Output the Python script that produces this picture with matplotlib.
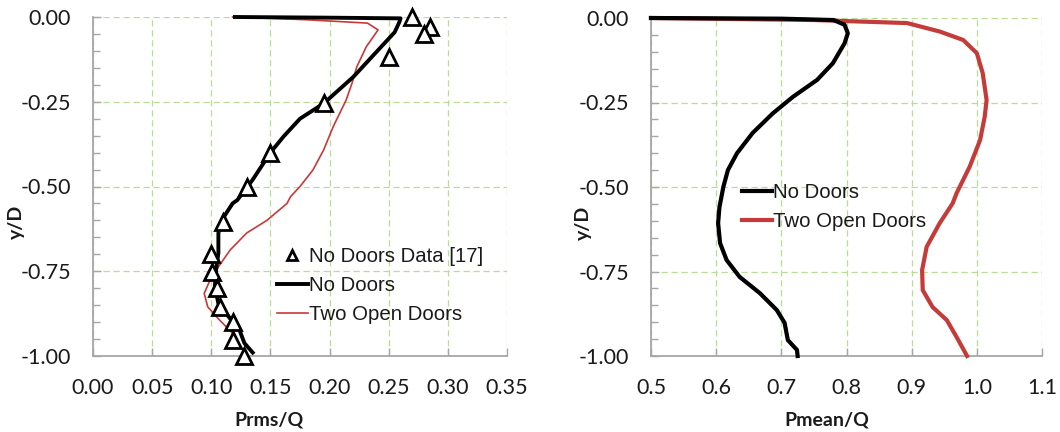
import matplotlib
matplotlib.use("Agg")
import matplotlib.pyplot as plt
from matplotlib.ticker import MultipleLocator, FormatStrFormatter

# ---------------- data (left panel: Prms/Q) ----------------
data_x = [0.270, 0.285, 0.280, 0.250, 0.195, 0.150, 0.130, 0.110, 0.0995,
          0.101, 0.105, 0.107, 0.118, 0.118, 0.128]
data_y = [0.00, -0.03, -0.05, -0.118, -0.255, -0.40, -0.50, -0.605, -0.70,
          -0.752, -0.80, -0.855, -0.90, -0.952, -1.00]

nd_rms_x = [0.120, 0.200, 0.260, 0.259, 0.255, 0.220, 0.195, 0.175, 0.161, 0.150,
            0.135, 0.122, 0.118, 0.110, 0.106, 0.106, 0.104, 0.103, 0.106,
            0.116, 0.124, 0.128, 0.135]
nd_rms_y = [0.000, -0.002, -0.004, -0.015, -0.045, -0.177, -0.255, -0.300, -0.353, -0.400,
            -0.480, -0.540, -0.550, -0.593, -0.637, -0.697, -0.747, -0.796, -0.845,
            -0.890, -0.925, -0.962, -0.990]

od_rms_x = [0.118, 0.180, 0.232, 0.241, 0.231, 0.223, 0.219, 0.214, 0.203, 0.195,
            0.186, 0.175, 0.167, 0.164, 0.147, 0.130, 0.116, 0.106, 0.099,
            0.094, 0.097, 0.107, 0.118, 0.128]
od_rms_y = [0.000, -0.008, -0.018, -0.038, -0.088, -0.147, -0.195, -0.245, -0.324, -0.392,
            -0.451, -0.500, -0.530, -0.550, -0.600, -0.637, -0.687, -0.737, -0.776,
            -0.815, -0.855, -0.894, -0.933, -0.990]

# ---------------- data (right panel: Pmean/Q) ----------------
nd_mean_x = [0.500, 0.700, 0.780, 0.797, 0.802, 0.797, 0.779, 0.755, 0.718, 0.687,
             0.656, 0.632, 0.618, 0.611, 0.605, 0.603, 0.606, 0.616, 0.636, 0.667,
             0.693, 0.705, 0.710, 0.724, 0.725]
nd_mean_y = [0.000, -0.002, -0.006, -0.020, -0.045, -0.075, -0.134, -0.183, -0.233, -0.282,
             -0.340, -0.400, -0.450, -0.500, -0.560, -0.607, -0.666, -0.716, -0.766, -0.814,
             -0.864, -0.902, -0.953, -0.982, -1.000]

od_mean_x = [0.500, 0.750, 0.893, 0.943, 0.979, 1.000, 1.009, 1.015, 1.012, 1.005,
             0.989, 0.969, 0.963, 0.943, 0.923, 0.916, 0.917, 0.932, 0.954,
             0.969, 0.985]
od_mean_y = [0.000, -0.006, -0.015, -0.040, -0.065, -0.104, -0.163, -0.243, -0.293, -0.361,
             -0.440, -0.518, -0.548, -0.607, -0.677, -0.746, -0.805, -0.855, -0.894,
             -0.944, -1.000]

labels_left = ["No Doors Data [17]", "No Doors", "Two Open Doors"]
labels_right = ["No Doors", "Two Open Doors"]

# ---------------- styling ----------------
RED_L = "#c8393a"
RED_R = "#c43c3a"
GRID = "#b9dd96"
SPINE = "#a6a6a6"
TICKFONT = "Lato"
LEGFONT = "Liberation Sans"

fig = plt.figure(figsize=(10.6, 4.32), dpi=100)
axL = fig.add_axes([93 / 1060, 1 - 356 / 432, 414 / 1060, 339 / 432])
axR = fig.add_axes([651 / 1060, 1 - 356 / 432, 391 / 1060, 338 / 432])


def style(ax, xmin, xmax, xstep, fmt, xlabel, xlab_x, ylab_x):
    ax.set_xlim(xmin, xmax)
    ax.set_ylim(-1.0, 0.0)
    ax.xaxis.set_major_locator(MultipleLocator(xstep))
    ax.xaxis.set_major_formatter(FormatStrFormatter(fmt))
    ax.yaxis.set_major_locator(MultipleLocator(0.25))
    ax.yaxis.set_minor_locator(MultipleLocator(0.05))
    ax.yaxis.set_major_formatter(FormatStrFormatter("%.2f"))
    ax.grid(True, which="major", color=GRID, linestyle=(0, (5, 3)), linewidth=0.9)
    ax.set_axisbelow(True)
    for s in ("top", "right"):
        ax.spines[s].set_visible(False)
    for s in ("left", "bottom"):
        ax.spines[s].set_color(SPINE)
        ax.spines[s].set_linewidth(1.3)
    ax.tick_params(axis="both", which="both", direction="in", color=SPINE, width=1)
    ax.tick_params(axis="y", which="major", length=6, pad=16)
    ax.tick_params(axis="y", which="minor", length=5)
    ax.tick_params(axis="x", which="major", length=6, pad=16)
    for t in ax.get_xticklabels() + ax.get_yticklabels():
        t.set_fontfamily(TICKFONT)
        t.set_fontsize(15.5)
        t.set_color("#1a1a1a")
    ax.set_xlabel(xlabel, fontfamily=TICKFONT, fontweight="bold", fontsize=14, color="#1a1a1a")
    ax.xaxis.label.set_va("center")
    ax.xaxis.set_label_coords(xlab_x, -0.189)
    ax.set_ylabel("y/D", fontfamily=TICKFONT, fontweight="bold", fontsize=14, color="#1a1a1a")
    ax.yaxis.label.set_va("center")
    ax.yaxis.set_label_coords(ylab_x, 0.395)


style(axL, 0.0, 0.35, 0.05, "%.2f", "Prms/Q", 0.425, -0.184)
style(axR, 0.5, 1.1, 0.1, "%.1f", "Pmean/Q", 0.45, -0.174)

# left panel
h1, = axL.plot(data_x, data_y, linestyle="none", marker="^", markersize=11,
               markerfacecolor="white", markeredgecolor="black", markeredgewidth=2.0,
               zorder=5, clip_on=False)
h2, = axL.plot(nd_rms_x, nd_rms_y, color="black", linewidth=2.8, zorder=4,
               solid_joinstyle="round", clip_on=False)
h3, = axL.plot(od_rms_x, od_rms_y, color=RED_L, linewidth=1.2, zorder=3, clip_on=False)

legL = axL.legend([h1, h2, h3], labels_left, loc="upper left",
                  bbox_to_anchor=(277 / 1060, 1 - 247 / 432), bbox_transform=fig.transFigure,
                  frameon=False, borderpad=0, borderaxespad=0, handlelength=1.5,
                  handletextpad=0.08, labelspacing=0.5, markerscale=0.6,
                  prop={"family": LEGFONT, "size": 14.7})
for t in legL.get_texts():
    t.set_color("#1a1a1a")

# right panel
g1, = axR.plot(nd_mean_x, nd_mean_y, color="black", linewidth=3.0, zorder=4, clip_on=False)
g2, = axR.plot(od_mean_x, od_mean_y, color=RED_R, linewidth=3.0, zorder=3, clip_on=False)
legR = axR.legend([g1, g2], labels_right, loc="upper left",
                  bbox_to_anchor=(742 / 1060, 1 - 183 / 432), bbox_transform=fig.transFigure,
                  frameon=False, borderpad=0, borderaxespad=0, handlelength=1.45,
                  handletextpad=0.08, labelspacing=0.48,
                  prop={"family": LEGFONT, "size": 14.7})
for t in legR.get_texts():
    t.set_color("#1a1a1a")

fig.savefig("out.png", dpi=100)
